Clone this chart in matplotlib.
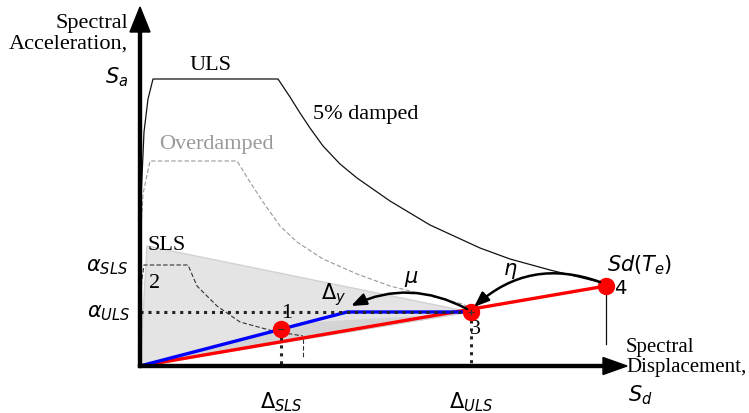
import matplotlib.pyplot as plt
from matplotlib.patches import Polygon

# schematic units: origin at the axes corner, x = spectral displacement, y = spectral acceleration
uls_x = [0, 0.5, 1, 4, 8, 13, 138, 150, 160, 170, 183, 200, 217, 250, 290, 340, 370, 410, 463]
uls_y = [0, 117, 167, 234, 267, 287, 287, 269, 253, 238, 220, 202, 188, 165, 141, 118, 107, 96, 83]

over_x = [0.5, 3, 10, 97, 110, 123, 140, 157, 183, 217, 250, 290, 323, 330]
over_y = [127, 172, 205, 205, 184, 164, 140, 124, 107, 92, 80, 70, 62, 57]

sls_x = [0.5, 2, 4, 48, 57, 77, 100, 133, 163]
sls_y = [67, 87, 101, 101, 80, 60, 44, 35, 30]

# performance points 1, 3, 4 and the yield point
p1 = (141, 37)
p3 = (331, 54)
p4 = (466, 80)
yield_pt = (207, 54)

blue_x = [0, yield_pt[0], p3[0]]
blue_y = [0, yield_pt[1], p3[1]]
red_x = [0, p4[0]]
red_y = [0, p4[1]]

shade_light = [(0, 0), (7, 120), (330, 54)]
shade_dark = [(0, 0), (160, 43), (328, 53)]

serif = 'Liberation Serif'
fs_serif = 16
fs_math = 15

fig = plt.figure(figsize=(7.49, 4.14), dpi=100)
ax = fig.add_axes([0, 0, 1, 1])
ax.set_xlim(-140, 609)
ax.set_ylim(-47, 367)
ax.axis('off')

# shaded SLS region
ax.add_patch(Polygon(shade_light, closed=True, fc='#e4e4e4', ec='#d2d2d2', lw=1, zorder=1))
ax.add_patch(Polygon(shade_dark, closed=True, fc='#d4d4d4', ec='none', zorder=1))

# spectra
ax.plot(uls_x, uls_y, color='#111111', lw=0.9, zorder=2)
ax.plot(over_x, over_y, color='#999999', lw=0.8, ls=(0, (4, 2)), zorder=2)
ax.plot(sls_x, sls_y, color='#333333', lw=0.8, ls=(0, (4, 2)), zorder=2)
ax.plot([sls_x[-1], sls_x[-1]], [27, 8], color='#333333', lw=0.8, ls=(0, (4, 2)), zorder=2)

# capacity lines
ax.plot(red_x, red_y, color='red', lw=2.4, zorder=3, solid_capstyle='round')
ax.plot(blue_x, blue_y, color='blue', lw=2.4, zorder=3, solid_capstyle='round')

# dotted guides
dots = dict(color='#222222', lw=2.2, ls=(0, (1, 1.6)), zorder=4)
ax.plot([0, p3[0]], [p3[1], p3[1]], **dots)
ax.plot([p1[0], p1[0]], [p1[1], 0], **dots)
ax.plot([p3[0], p3[0]], [p3[1], 0], **dots)
ax.plot([p4[0], p4[0]], [p4[1], 22], color='#111111', lw=0.9, zorder=3)

# points
for p in (p1, p3, p4):
    ax.plot(p[0], p[1], 'o', color='red', ms=11.5, zorder=5)
ax.plot(p3[0], p3[1], '+', color='#333333', ms=5, mew=0.8, zorder=6)
ax.plot(p1[0], p1[1], '_', color='#333333', ms=4, mew=0.8, zorder=6)

# curved arrows
head = '-|>,head_length=0.9,head_width=0.35'
ax.annotate('', xy=(p3[0] + 3, p3[1] + 5), xytext=(p4[0] - 6, p4[1] + 4),
            arrowprops=dict(arrowstyle=head, color='k', lw=1.8,
                            connectionstyle='arc3,rad=0.3', shrinkA=0, shrinkB=0), zorder=6)
ax.annotate('', xy=(yield_pt[0] + 4, p3[1] + 6), xytext=(p3[0] - 4, p3[1] + 3),
            arrowprops=dict(arrowstyle=head, color='k', lw=1.8,
                            connectionstyle='arc3,rad=0.25', shrinkA=0, shrinkB=0), zorder=6)

# axes arrows
ax.arrow(0, -1.5, 0, 360.5, width=3, head_width=20, head_length=25,
         length_includes_head=True, fc='k', ec='k', zorder=7)
ax.arrow(-1.5, 0, 488.5, 0, width=3, head_width=17, head_length=24,
         length_includes_head=True, fc='k', ec='k', zorder=7)

# text
ax.text(-12, 353, 'Spectral\nAcceleration,', ha='right', va='top', family=serif,
        fontsize=fs_serif, linespacing=1.1, multialignment='right')
ax.text(-12, 290, '$S_a$', ha='right', va='center', fontsize=fs_math)
ax.text(71, 301, 'ULS', ha='center', va='center', family=serif, fontsize=fs_serif)
ax.text(226, 252, '5% damped', ha='center', va='center', family=serif, fontsize=fs_serif)
ax.text(76, 223, 'Overdamped', ha='center', va='center', family=serif, fontsize=fs_serif,
        color='#999999')
ax.text(27, 121, 'SLS', ha='center', va='center', family=serif, fontsize=fs_serif)
ax.text(15, 84, '2', ha='center', va='center', family=serif, fontsize=fs_serif)
ax.text(147, 53, '1', ha='center', va='center', family=serif, fontsize=fs_serif)
ax.text(335, 37, '3', ha='center', va='center', family=serif, fontsize=fs_serif)
ax.text(480, 79, '4', ha='center', va='center', fontsize=14)
ax.text(194, 72, r'$\Delta_y$', ha='center', va='center', fontsize=fs_math)
ax.text(271, 88, r'$\mu$', ha='center', va='center', fontsize=fs_math)
ax.text(370, 96, r'$\eta$', ha='center', va='center', fontsize=fs_math)
ax.text(500, 102, r'$Sd(T_e)$', ha='center', va='center', fontsize=fs_math)
ax.text(-12, 100, r'$\alpha_{SLS}$', ha='right', va='center', fontsize=fs_math)
ax.text(-10, 54, r'$\alpha_{ULS}$', ha='right', va='center', fontsize=fs_math)
ax.text(p1[0], -35, r'$\Delta_{SLS}$', ha='center', va='center', fontsize=fs_math)
ax.text(p3[0], -35, r'$\Delta_{ULS}$', ha='center', va='center', fontsize=fs_math)
ax.text(486, 29, 'Spectral\nDisplacement,', ha='left', va='top', family=serif,
        fontsize=15, linespacing=1.1)
ax.text(488, -28, '$S_d$', ha='left', va='center', fontsize=fs_math)

fig.savefig('out.png', dpi=100)
